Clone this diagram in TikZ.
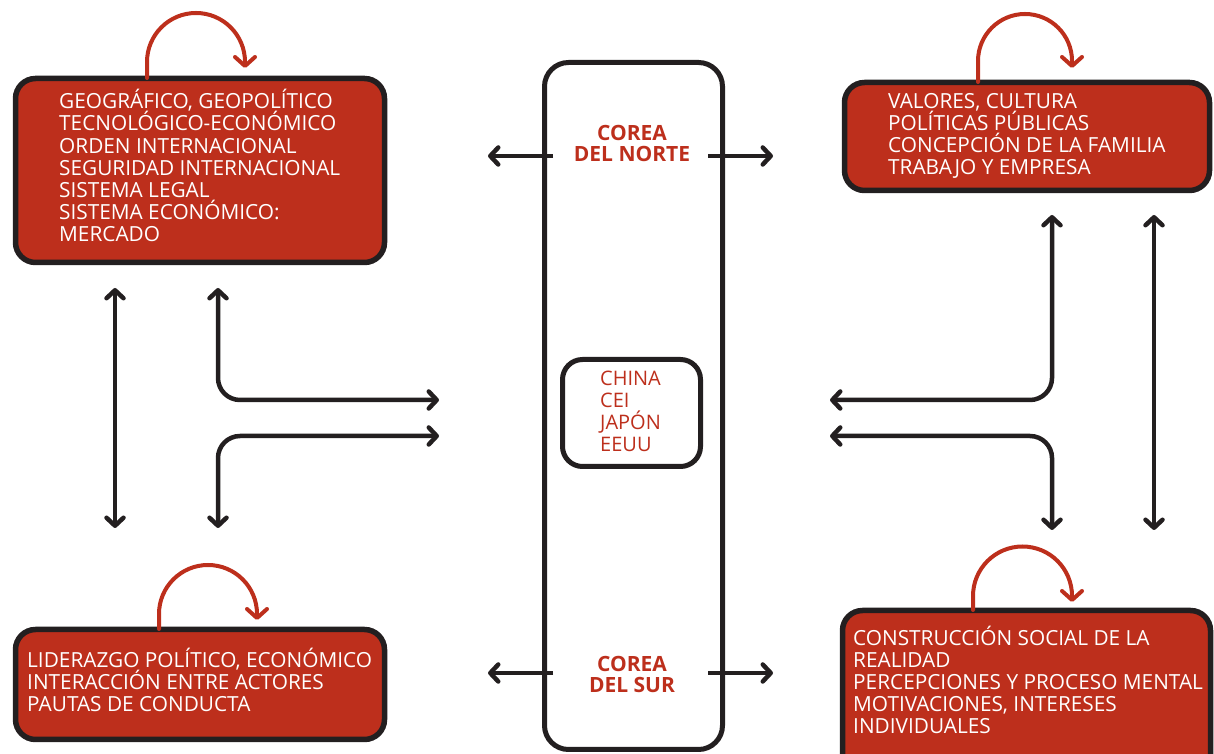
\documentclass[tikz,border=0pt]{standalone}
\usepackage{fontspec}
\setmainfont{Open Sans}
\usetikzlibrary{arrows.meta}
\definecolor{boxred}{RGB}{189,47,28}
\definecolor{ink}{RGB}{35,31,32}
\begin{document}
\begin{tikzpicture}[x=1pt,y=1pt,
  redbox/.style={draw=ink, line width=5.5pt, fill=boxred, rounded corners=20pt, inner sep=0pt},
  whitebox/.style={draw=ink, line width=5pt, fill=white, rounded corners=24pt, inner sep=0pt},
  boxtext/.style={text=white, font=\fontsize{20.8}{22.2}\selectfont, align=left, anchor=base west, inner sep=0pt},
  redlabel/.style={text=boxred, font=\fontsize{21}{21}\selectfont\bfseries, align=center, anchor=base, inner sep=0pt},
  innertext/.style={text=boxred, font=\fontsize{20}{22.3}\selectfont, align=left, anchor=base west, inner sep=0pt},
  selfloop/.style={draw=boxred, line width=4pt, line cap=round, -{Straight Barb[length=9pt,width=20pt,line cap=round,line join=round]}},
  onearrow/.style={draw=ink, line width=4.5pt, -{Straight Barb[length=8pt,width=17pt,line cap=round,line join=round]}},
  dlink/.style={draw=ink, line width=4.5pt, {Straight Barb[length=8pt,width=17pt,line cap=round,line join=round]}-{Straight Barb[length=8pt,width=17pt,line cap=round,line join=round]}},
  ]
\useasboundingbox (0,0) rectangle (1214,754);
\clip (0,0) rectangle (1214,754);

% boxes
\node[redbox, minimum width=369pt, minimum height=184pt] (tl) at (200,583.5) {};
\node[redbox, minimum width=365pt, minimum height=108pt] (tr) at (1027,617.5) {};
\node[redbox, minimum width=369pt, minimum height=110pt] (bl) at (200,69.5) {};
\node[redbox, minimum width=368pt, minimum height=165pt] (br) at (1026.5,61) {};
\node[whitebox, minimum width=178pt, minimum height=687pt] (mid) at (633.5,348) {};
\node[whitebox, rounded corners=20pt, minimum width=138pt, minimum height=107pt] (inner) at (631.5,341) {};

% texts (base anchor = baseline of the last line)
\node[boxtext] (tltext) at (59,512) {GEOGRÁFICO, GEOPOLÍTICO\\TECNOLÓGICO-ECONÓMICO\\ORDEN INTERNACIONAL\\SEGURIDAD INTERNACIONAL\\SISTEMA LEGAL\\SISTEMA ECONÓMICO:\\MERCADO};
\node[boxtext] (trtext) at (888,579) {VALORES, CULTURA\\POLÍTICAS PÚBLICAS\\CONCEPCIÓN DE LA FAMILIA\\TRABAJO Y EMPRESA};
\node[boxtext] (bltext) at (27,42) {LIDERAZGO POLÍTICO, ECONÓMICO\\INTERACCIÓN ENTRE ACTORES\\PAUTAS DE CONDUCTA};
\node[boxtext] (brtext) at (853,20) {CONSTRUCCIÓN SOCIAL DE LA\\REALIDAD\\PERCEPCIONES Y PROCESO MENTAL\\MOTIVACIONES, INTERESES\\INDIVIDUALES};
\node[redlabel] (north) at (632,592) {COREA\\DEL NORTE};
\node[redlabel] (south) at (632,61) {COREA\\DEL SUR};
\node[innertext] (innerlist) at (600,302) {CHINA\\CEI\\JAPÓN\\EEUU};

% self loops
\draw[selfloop] (147,676) -- (147,692) arc[start angle=180,end angle=0,radius=49] -- (245,686);
\draw[selfloop] (978,672) -- (978,693) arc[start angle=180,end angle=0,radius=47] -- (1072,686);
\draw[selfloop] (159,125) -- (159,140) arc[start angle=180,end angle=0,radius=49] -- (257,134);
\draw[selfloop] (973,144) -- (973,158) arc[start angle=180,end angle=0,radius=49.5] -- (1072,152);

% Korea arrows
\coordinate (nl0) at (553,598); \coordinate (nl1) at (488,598);
\coordinate (nr0) at (708,598); \coordinate (nr1) at (773,598);
\coordinate (sl0) at (553,81); \coordinate (sl1) at (488,81);
\coordinate (sr0) at (708,81); \coordinate (sr1) at (773,81);
\draw[onearrow] (nl0) -- (nl1);
\draw[onearrow] (nr0) -- (nr1);
\draw[onearrow] (sl0) -- (sl1);
\draw[onearrow] (sr0) -- (sr1);

% left group
\coordinate (lv1) at (115,466); \coordinate (lv2) at (115,226);
\coordinate (le1) at (218,466); \coordinate (le2) at (439,354);
\coordinate (le3) at (439,318); \coordinate (le4) at (218,226);
\draw[dlink] (lv1) -- (lv2);
\draw[dlink, rounded corners=22pt] (le1) |- (le2);
\draw[dlink, rounded corners=22pt] (le3) -| (le4);

% right group
\coordinate (rv1) at (1154,539); \coordinate (rv2) at (1154,224);
\coordinate (re1) at (1052,539); \coordinate (re2) at (830,354);
\coordinate (re3) at (830,318); \coordinate (re4) at (1052,224);
\draw[dlink] (rv1) -- (rv2);
\draw[dlink, rounded corners=22pt] (re1) |- (re2);
\draw[dlink, rounded corners=22pt] (re3) -| (re4);
\end{tikzpicture}
\end{document}
